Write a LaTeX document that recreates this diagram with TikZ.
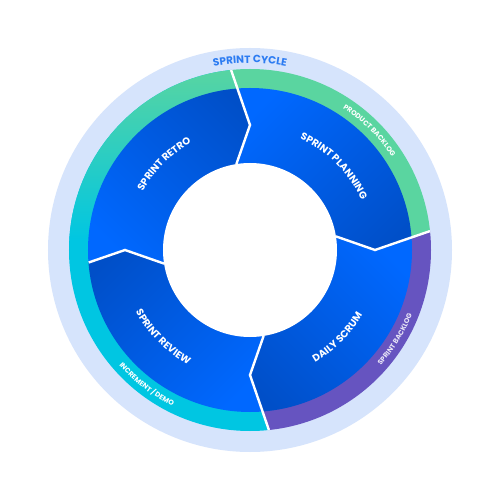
\documentclass[tikz,border=0pt]{standalone}
\usepackage{fontspec}
\setmainfont{Poppins}
\usetikzlibrary{calc,decorations.text}
\definecolor{ringbg}{HTML}{D6E4FC}
\definecolor{pgreen}{HTML}{5AD5A0}
\definecolor{pcyan}{HTML}{00C6E2}
\definecolor{ppurple}{HTML}{6654C0}
\definecolor{bbright}{HTML}{0068FF}
\definecolor{bdark}{HTML}{004FC8}
\definecolor{cyctext}{HTML}{2C7CF2}
\newcommand\segfont{\fontsize{10}{11}\selectfont\bfseries}
\newcommand\cycfont{\fontsize{10.5}{11}\selectfont\bfseries}
\newcommand\ringfont{\fontsize{7}{8}\selectfont\bfseries}
\tikzset{
  divider/.style={white, line width=2.4pt, line join=miter},
  arclabel/.style={decorate, decoration={text along path, text align=center, text color=#1}},
}
\begin{document}
\begin{tikzpicture}[x=1pt,y=1pt]
\useasboundingbox (-250,-250) rectangle (250,250);
\fill[white] (-250,-250) rectangle (250,250);
\fill[ringbg] (0,0) circle (202);
% divider points
\foreach \n/\t in {n/90,e/0,s/-90,w/180}{
  \coordinate (K\n) at ({\t}:125);
  \coordinate (O\n) at ({\t+6}:181);
  \coordinate (I\n) at ({\t+9}:87);
  \coordinate (X\n) at ($(K\n)!3!(O\n)$);
}
\coordinate (C) at (0,0);
% coloured ring
\begin{scope}
  \clip (C) circle (181);
  \fill[pgreen] (Xn) -- (Kn) -- (C) -- (Ke) -- (Xe) -- (45:450) -- cycle;
  \fill[ppurple] (Xe) -- (Ke) -- (C) -- (Ks) -- (Xs) -- (-45:450) -- cycle;
  \begin{scope}
    \clip (Xn) -- (Kn) -- (C) -- (Ks) -- (Xs) -- (225:450) -- (135:450) -- cycle;
    \fill[pcyan] (-190,-190) rectangle (60,190);
    \shade[top color=pgreen, bottom color=pcyan] (-190,10) rectangle (60,185);
  \end{scope}
\end{scope}
% blue segments
\begin{scope}
  \clip (C) circle (162);
  \begin{scope}
    \clip (Xn) -- (Kn) -- (In) -- (C) -- (Ie) -- (Ke) -- (Xe) -- (45:450) -- cycle;
    \shade[top color=bbright, bottom color=bdark, shading angle=45] (-20,-20) rectangle (170,170);
  \end{scope}
  \begin{scope}
    \clip (Xe) -- (Ke) -- (Ie) -- (C) -- (Is) -- (Ks) -- (Xs) -- (-45:450) -- cycle;
    \shade[top color=bbright, bottom color=bdark, shading angle=-45] (-20,20) rectangle (170,-170);
  \end{scope}
  \begin{scope}
    \clip (Xs) -- (Ks) -- (Is) -- (C) -- (Iw) -- (Kw) -- (Xw) -- (225:450) -- cycle;
    \shade[top color=bbright, bottom color=bdark, shading angle=-135] (20,20) rectangle (-170,-170);
  \end{scope}
  \begin{scope}
    \clip (Xw) -- (Kw) -- (Iw) -- (C) -- (In) -- (Kn) -- (Xn) -- (135:450) -- cycle;
    \shade[top color=bbright, bottom color=bdark, shading angle=135] (20,-20) rectangle (-170,170);
  \end{scope}
\end{scope}
% centre
\fill[white] (C) circle (87);
% dividers
\draw[divider] (On) -- (Kn) -- (In);
\draw[divider] (Oe) -- (Ke) -- (Ie);
\draw[divider] (Os) -- (Ks) -- (Is);
\draw[divider] ($(Kw)!0.66!(Ow)$) -- (Kw) -- (Iw);
% segment labels
\path[arclabel=white, decoration={text={|\segfont|SPRINT PLANNING}}] (80:122) arc[start angle=80, end angle=10, radius=122];
\path[arclabel=white, decoration={text={|\segfont|SPRINT RETRO}}] (170:122) arc[start angle=170, end angle=100, radius=122];
\path[arclabel=white, decoration={text={|\segfont|DAILY SCRUM}}] (-80:130) arc[start angle=-80, end angle=-10, radius=130];
\path[arclabel=white, decoration={text={|\segfont|SPRINT REVIEW}}] (190:130) arc[start angle=190, end angle=260, radius=130];
% ring labels
\path[arclabel=cyctext, decoration={text={|\cycfont|SPRINT CYCLE}}] (115:187) arc[start angle=115, end angle=65, radius=187];
\path[arclabel=white, decoration={text={|\ringfont|PRODUCT BACKLOG}}] (70:169.5) arc[start angle=70, end angle=20, radius=169.5];
\path[arclabel=white!85!ppurple, decoration={text={|\ringfont|SPRINT BACKLOG}}] (-55:174.5) arc[start angle=-55, end angle=-8, radius=174.5];
\path[arclabel=white, decoration={text={|\ringfont|INCREMENT / DEMO}}] (210:174.5) arc[start angle=210, end angle=255, radius=174.5];
\end{tikzpicture}
\end{document}
